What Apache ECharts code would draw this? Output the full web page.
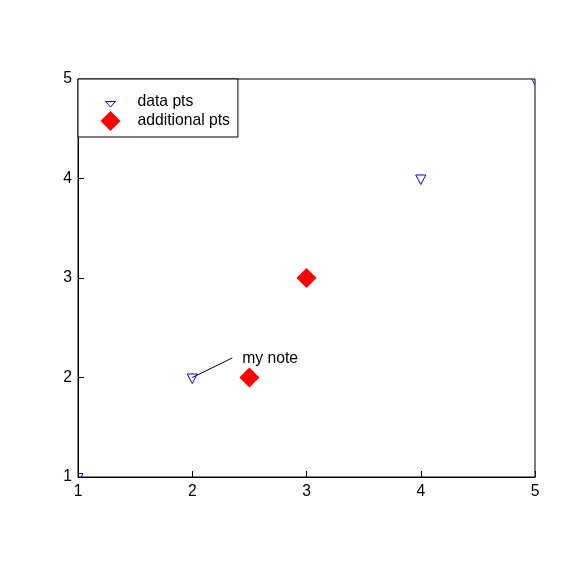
<!DOCTYPE html>
<html>
<head>
<meta charset="utf-8">
<script src="https://cdn.jsdelivr.net/npm/echarts@6/dist/echarts.min.js"></script>
<style>html,body{margin:0;padding:0;background:#fff;}#c{width:576px;height:576px;}</style>
</head>
<body>
<div id="c"></div>
<script>
const dataPts = [[1, 1], [2, 2], [4, 4], [5, 5]];
const additionalPts = [[2.5, 2], [3, 3]];
const note = [[2, 2, 2.35, 2.196, 'my note']];
const xTicks = [1, 2, 3, 4, 5];
const yTicks = [1, 2, 3, 4, 5];
const FONT = 'Liberation Sans';
const FS = 15.7;

const chart = echarts.init(document.getElementById('c'), null, {renderer: 'canvas'});
chart.setOption({
  animation: false,
  backgroundColor: '#fff',
  grid: {left: 78, right: 41, top: 79, bottom: 99, show: true, borderColor: '#000', borderWidth: 1, backgroundColor: 'transparent'},
  xAxis: {
    type: 'value', min: xTicks[0], max: xTicks[xTicks.length - 1], interval: 1,
    axisLine: {show: true, lineStyle: {color: '#000', width: 1}},
    axisTick: {show: true, inside: true, length: 6, lineStyle: {color: '#000'}},
    axisLabel: {color: '#000', fontSize: FS, fontFamily: FONT, margin: 7},
    splitLine: {show: false}
  },
  yAxis: {
    type: 'value', min: yTicks[0], max: yTicks[yTicks.length - 1], interval: 1,
    axisLine: {show: true, lineStyle: {color: '#000', width: 1}},
    axisTick: {show: true, inside: true, length: 6, lineStyle: {color: '#000'}},
    axisLabel: {color: '#000', fontSize: FS, fontFamily: FONT, margin: 6},
    splitLine: {show: false}
  },
  legend: {
    orient: 'vertical', left: 78, top: 79,
    padding: [10, 8, 6, 20],
    itemWidth: 44, itemHeight: 20, itemGap: -3,
    backgroundColor: '#fff', borderColor: '#000', borderWidth: 1,
    textStyle: {fontSize: FS, fontFamily: FONT, color: '#000'},
    data: [
      {name: 'data pts', icon: 'path://M-10,-10M10,10M-5,0L5,0L0,5.5Z',
       itemStyle: {color: 'none', borderColor: '#0000ff', borderWidth: 1}},
      {name: 'additional pts', icon: 'path://M0,-10L10,0L0,10L-10,0Z', itemStyle: {color: '#ff0000', opacity: 1}}
    ]
  },
  series: [
    {
      name: 'data pts', type: 'custom', clip: true,
      itemStyle: {color: 'none', borderColor: '#0000ff', borderWidth: 1},
      data: dataPts,
      renderItem: function (params, api) {
        const p = api.coord([api.value(0), api.value(1)]);
        return {
          type: 'polygon',
          shape: {points: [[p[0] - 5, p[1] - 3.5], [p[0] + 5, p[1] - 3.5], [p[0], p[1] + 6]]},
          style: {fill: 'none', stroke: '#0000ff', lineWidth: 1}
        };
      }
    },
    {
      name: 'additional pts', type: 'scatter', symbol: 'diamond', symbolSize: 20,
      itemStyle: {color: '#ff0000', opacity: 1},
      data: additionalPts
    },
    {
      name: 'note', type: 'custom', clip: false, silent: true,
      data: note,
      renderItem: function (params, api) {
        const a = api.coord([api.value(0), api.value(1)]);
        const b = api.coord([api.value(2), api.value(3)]);
        return {
          type: 'group',
          children: [
            {type: 'line', shape: {x1: a[0], y1: a[1], x2: b[0], y2: b[1]}, style: {stroke: '#000', lineWidth: 1}},
            {type: 'text', x: b[0] + 10, y: b[1] + 1, style: {text: api.value(4), fill: '#000', font: FS + 'px ' + FONT, verticalAlign: 'middle'}}
          ]
        };
      }
    }
  ]
});
</script>
</body>
</html>
